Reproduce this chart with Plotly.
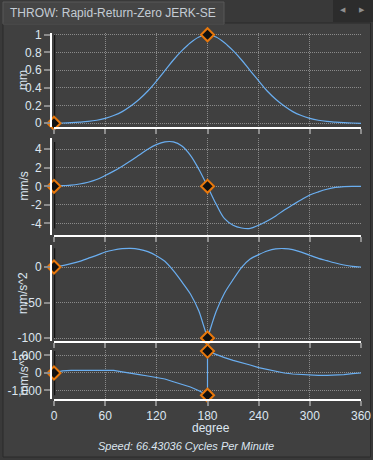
import plotly.graph_objects as go

# ---------------- data ----------------
theta = [0, 10, 20, 30, 40, 50, 60, 70, 80, 90, 100, 110, 120, 130, 140, 150, 160, 170, 180,
         190, 200, 210, 220, 230, 240, 250, 260, 270, 280, 290, 300, 310, 320, 330, 340, 350, 360]

displacement = [0, 0.003, 0.007, 0.013, 0.021, 0.034, 0.056, 0.088, 0.132, 0.195, 0.272, 0.365,
                0.475, 0.595, 0.715, 0.82, 0.91, 0.975, 1.0, 0.975, 0.91, 0.82, 0.715, 0.595,
                0.48, 0.365, 0.272, 0.195, 0.132, 0.088, 0.056, 0.034, 0.021, 0.013, 0.007,
                0.003, 0]

velocity = [0, 0.07, 0.12, 0.25, 0.44, 0.73, 1.16, 1.64, 2.18, 2.76, 3.38, 4.0, 4.5, 4.8, 4.8,
            4.36, 3.35, 1.82, 0, -1.9, -3.5, -4.2, -4.5, -4.55, -4.2, -3.75, -3.2, -2.56, -2.0,
            -1.45, -0.94, -0.6, -0.32, -0.12, -0.03, 0.0, 0]

acc_theta = [0, 10, 20, 30, 40, 50, 60, 70, 80, 90, 100, 110, 120, 130, 140, 150, 160, 170, 175,
             180, 185, 190, 200, 210, 220, 230, 240, 250, 260, 270, 280, 290, 300, 310, 320, 330,
             340, 350, 360]
acceleration = [0, 1.9, 4.7, 8, 12.2, 16.4, 21.1, 24, 25.8, 26.3, 24.9, 21.6, 16, 8, -5.2, -21,
                -38, -62.4, -81, -100, -81, -63, -36.6, -17.8, -0.5, 11.3, 17.4, 22.5, 25.5, 26,
                24.5, 21, 16.5, 12.2, 8.9, 5.6, 2.8, 0.9, 0]

jerk_theta = [0, 10, 20, 30, 40, 50, 60, 70, 80, 90, 100, 110, 120, 130, 140, 150, 160, 170, 180,
              180, 190, 200, 210, 220, 230, 240, 250, 260, 270, 280, 290, 300, 310, 320, 330,
              340, 350, 360]
jerk = [0, 120, 150, 152, 152, 152, 150, 148, 60, 0, -95, -170, -248, -343, -500, -648, -800,
        -1010, -1270, 1250, 1048, 876, 724, 610, 457, 305, 190, 76, 0, -57, -95, -133, -133,
        -133, -133, -95, -40, 0]

x_ticks = [0, 60, 120, 180, 240, 300, 360]
x_ticktext = ["0", "60", "120", "180", "240", "300", "360"]

y1_ticks = [0, 0.2, 0.4, 0.6, 0.8, 1]
y1_ticktext = ["0", "0.2", "0.4", "0.6", "0.8", "1"]
y2_ticks = [-4, -2, 0, 2, 4]
y2_ticktext = ["-4", "-2", "0", "2", "4"]
y3_ticks = [-100, -50, 0]
y3_ticktext = ["-100", "-50", "0"]
y4_ticks = [-1000, 0, 1000]
y4_ticktext = ["-1,000", "0", "1,000"]

y_titles = ["mm", "mm/s", "mm/s^2", "mm/s^3"]
x_title = "degree"
tab_title = "THROW: Rapid-Return-Zero JERK-SE"
footer = "Speed: 66.43036 Cycles Per Minute"

# ---------------- styling ----------------
W, H = 373, 460
FONT = "Liberation Sans"
TXT = "#dde6f0"
CURVE = "#6aaef0"
ORANGE = "#e8780c"
GRID = "#8a8a8a"
TICKC = "#8c8c8c"


def px(x):
    return x / W


def py(y):
    return 1 - y / H


fig = go.Figure()

panels = [
    # (series theta, values, range, ticks, ticktext, domain px (top,bottom), shape)
    (theta, displacement, [-0.042, 1.02], y1_ticks, y1_ticktext, (33, 127), "spline"),
    (theta, velocity, [-5.26, 5.22], y2_ticks, y2_ticktext, (138, 235), "spline"),
    (acc_theta, acceleration, [-104.2, 31], y3_ticks, y3_ticktext, (245, 341), "split"),
    (jerk_theta, jerk, [-1486, 1314], y4_ticks, y4_ticktext, (350, 399), "linear"),
]

layout_axes = {}
annotations = []
for i, (th, vals, rng, tv, tt, (top, bot), shape) in enumerate(panels, start=1):
    xa = "x" if i == 1 else f"x{i}"
    ya = "y" if i == 1 else f"y{i}"

    # cursor line at theta = 0 spanning data min..max
    fig.add_trace(go.Scatter(x=[th[0], th[0]], y=[min(vals), max(vals)], mode="lines",
                             line=dict(color="#141414", width=2.5), xaxis=xa, yaxis=ya,
                             hoverinfo="skip", cliponaxis=False))

    if shape == "split":
        k = th.index(180)
        fig.add_trace(go.Scatter(x=th[:k + 1], y=vals[:k + 1], mode="lines",
                                 line=dict(color=CURVE, width=1.2, shape="spline", smoothing=0.7),
                                 xaxis=xa, yaxis=ya))
        fig.add_trace(go.Scatter(x=th[k:], y=vals[k:], mode="lines",
                                 line=dict(color=CURVE, width=1.2, shape="spline", smoothing=0.7),
                                 xaxis=xa, yaxis=ya))
    elif shape == "spline":
        fig.add_trace(go.Scatter(x=th, y=vals, mode="lines",
                                 line=dict(color=CURVE, width=1.2, shape="spline", smoothing=1.0),
                                 xaxis=xa, yaxis=ya))
    else:
        fig.add_trace(go.Scatter(x=th, y=vals, mode="lines",
                                 line=dict(color=CURVE, width=1.2),
                                 xaxis=xa, yaxis=ya))

    # markers at theta 0 and theta 180
    mx = [th[0]]
    my = [vals[0]]
    for j, t in enumerate(th):
        if t == 180:
            mx.append(t)
            my.append(vals[j])
    fig.add_trace(go.Scatter(x=mx, y=my, mode="markers",
                             marker=dict(symbol="diamond", size=10, color="#111111",
                                         line=dict(color=ORANGE, width=2)),
                             xaxis=xa, yaxis=ya, cliponaxis=False))

    layout_axes["xaxis" if i == 1 else f"xaxis{i}"] = dict(
        domain=[px(54), px(361)], range=[0, 360], anchor=ya, automargin=False,
        tickvals=x_ticks, ticktext=x_ticktext, showticklabels=(i == 4),
        showline=True, linecolor="white", linewidth=2,
        ticks="outside", ticklen=5, tickwidth=1.5, tickcolor=TICKC,
        showgrid=True, gridcolor=GRID, griddash="1px,1px", gridwidth=1,
        zeroline=False, tickfont=dict(family=FONT, size=12, color=TXT),
        fixedrange=True,
    )
    layout_axes["yaxis" if i == 1 else f"yaxis{i}"] = dict(
        domain=[py(bot), py(top)], range=rng, anchor="free", position=px(51), automargin=False,
        tickvals=tv, ticktext=tt,
        showline=True, linecolor="white", linewidth=2,
        ticks="outside", ticklen=6, tickwidth=1.5, tickcolor=TICKC,
        showgrid=True, gridcolor=GRID, griddash="1px,1px", gridwidth=1,
        zeroline=False, tickfont=dict(family=FONT, size=12, color=TXT),
        fixedrange=True,
    )
    annotations.append(dict(text=y_titles[i - 1], x=px(23), y=py((top + bot) / 2),
                            xref="paper", yref="paper", textangle=-90, showarrow=False,
                            xanchor="center", yanchor="middle",
                            font=dict(family=FONT, size=12, color=TXT)))

annotations.append(dict(text=x_title, x=px(211), y=py(428), xref="paper", yref="paper",
                        showarrow=False, xanchor="center", yanchor="middle",
                        font=dict(family=FONT, size=12, color=TXT)))
annotations.append(dict(text=footer, x=px(186), y=py(445.5), xref="paper", yref="paper",
                        showarrow=False, xanchor="center", yanchor="middle",
                        font=dict(family=FONT, size=11, color=TXT, style="italic")))
annotations.append(dict(text=tab_title, x=px(8), y=py(12.5), xref="paper", yref="paper",
                        showarrow=False, xanchor="left", yanchor="middle",
                        font=dict(family=FONT, size=12, color="#c4ccd4")))
annotations.append(dict(text="◀", x=px(343), y=py(10), xref="paper", yref="paper",
                        showarrow=False, xanchor="center", yanchor="middle",
                        font=dict(family="DejaVu Sans", size=7, color="#8f8f8f")))
annotations.append(dict(text="▶", x=px(362), y=py(10), xref="paper", yref="paper",
                        showarrow=False, xanchor="center", yanchor="middle",
                        font=dict(family="DejaVu Sans", size=7, color="#8f8f8f")))

shapes = [
    # main frame
    dict(type="rect", xref="paper", yref="paper", x0=px(3), x1=px(370.5), y0=py(457), y1=py(23),
         fillcolor="#404040", line=dict(color="#2a2a2a", width=1), layer="below"),
    # tab
    dict(type="rect", xref="paper", yref="paper", x0=px(3), x1=px(224), y0=py(24), y1=py(2),
         fillcolor="#454545", line=dict(color="#585858", width=1), layer="below"),
    dict(type="line", xref="paper", yref="paper", x0=px(3.5), x1=px(223.5), y0=py(23.5), y1=py(23.5),
         line=dict(color="#454545", width=2), layer="below"),
    # arrow box
    dict(type="rect", xref="paper", yref="paper", x0=px(333), x1=px(373), y0=py(22), y1=py(0),
         fillcolor="#2c2c2c", line=dict(width=0), layer="below"),
]

fig.update_layout(
    width=W, height=H, autosize=False,
    margin=dict(l=0, r=0, t=0, b=0),
    paper_bgcolor="#393939", plot_bgcolor="rgba(0,0,0,0)",
    showlegend=False, annotations=annotations, shapes=shapes,
    font=dict(family=FONT, size=12, color=TXT),
    **layout_axes,
)

fig.write_html(
    "out.html",
    config={"displayModeBar": False},
    post_script="document.body.style.margin='0';document.body.style.overflow='hidden';",
)
